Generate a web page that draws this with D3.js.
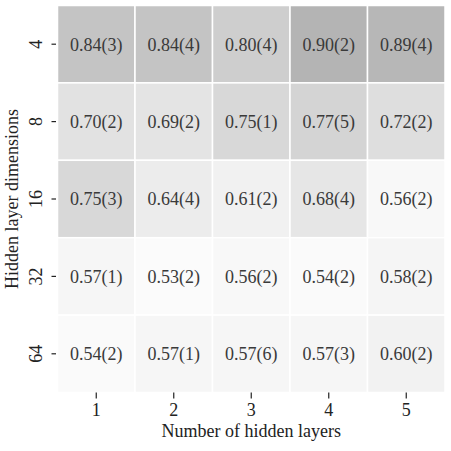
<!DOCTYPE html>
<html lang="en">
<head>
    <meta charset="UTF-8"/>
    <title>heatmap</title>
    <script src="https://d3js.org/d3.v7.min.js"></script>
    <style>
        body { margin: 0; background: #fff; }
        text { font-family: "Liberation Serif", serif; }
        .cell-label { font-size: 18px; fill: #3a3a3a; }
        .axis text { font-size: 18px; fill: #222; }
        .axis path { display: none; }
        .axis line { stroke: #222; stroke-width: 1.2; }
        .title { font-size: 18px; fill: #222; }
    </style>
</head>
<body>
<script>
    const layers = ["1", "2", "3", "4", "5"];
    const dims = ["4", "8", "16", "32", "64"];
    // mean accuracy per row (dims) and column (layers)
    const means = [
        [0.84, 0.84, 0.80, 0.90, 0.89],
        [0.70, 0.69, 0.75, 0.77, 0.72],
        [0.75, 0.64, 0.61, 0.68, 0.56],
        [0.57, 0.53, 0.56, 0.54, 0.58],
        [0.54, 0.57, 0.57, 0.57, 0.60]
    ];
    // uncertainty in last digit
    const errs = [
        [3, 4, 4, 2, 4],
        [2, 2, 1, 5, 2],
        [3, 4, 2, 4, 2],
        [1, 2, 2, 2, 2],
        [2, 1, 6, 3, 2]
    ];

    const width = 451, height = 451;
    const margin = {top: 5.5, right: 6, bottom: 58.5, left: 57.5};

    const svg = d3.select("body").append("svg")
        .attr("width", width)
        .attr("height", height);

    const x = d3.scaleBand().domain(layers).range([margin.left, width - margin.right]);
    const y = d3.scaleBand().domain(dims).range([margin.top, height - margin.bottom]);
    const color = d3.scaleSequential(d3.interpolateGreys).domain([0.5, 1.5]);

    let cells = [];
    dims.forEach((d, i) => layers.forEach((l, j) => {
        cells.push({dim: d, layer: l, v: means[i][j], e: errs[i][j]});
    }));

    svg.append("g").selectAll("rect")
        .data(cells)
        .enter().append("rect")
        .attr("x", d => x(d.layer))
        .attr("y", d => y(d.dim))
        .attr("width", x.bandwidth())
        .attr("height", y.bandwidth())
        .attr("fill", d => color(d.v))
        .attr("stroke", "#fff")
        .attr("stroke-width", 1.5);

    svg.append("g").selectAll("text")
        .data(cells)
        .enter().append("text")
        .attr("class", "cell-label")
        .attr("x", d => x(d.layer) + x.bandwidth() / 2)
        .attr("y", d => y(d.dim) + y.bandwidth() / 2)
        .attr("text-anchor", "middle")
        .attr("dy", "0.35em")
        .text(d => d.v.toFixed(2) + "(" + d.e + ")");

    // x axis
    svg.append("g")
        .attr("class", "axis")
        .attr("transform", "translate(0," + (height - margin.bottom) + ")")
        .call(d3.axisBottom(x).tickSize(6).tickPadding(5));

    // y axis, labels rotated
    const gy = svg.append("g")
        .attr("class", "axis")
        .attr("transform", "translate(" + margin.left + ",0)")
        .call(d3.axisLeft(y).tickSize(6).tickPadding(6));
    gy.selectAll(".tick line").attr("x1", -1.5);
    gy.selectAll(".tick text")
        .attr("text-anchor", "middle")
        .attr("x", 0)
        .attr("dy", 0)
        .attr("transform", "translate(-22,0) rotate(-90)")
        .attr("dominant-baseline", "central");

    svg.append("text")
        .attr("class", "title")
        .attr("x", (margin.left + width - margin.right) / 2)
        .attr("y", 437)
        .attr("text-anchor", "middle")
        .text("Number of hidden layers");

    svg.append("text")
        .attr("class", "title")
        .attr("transform", "translate(18," + ((margin.top + height - margin.bottom) / 2) + ") rotate(-90)")
        .attr("text-anchor", "middle")
        .text("Hidden layer dimensions");
</script>
</body>
</html>
